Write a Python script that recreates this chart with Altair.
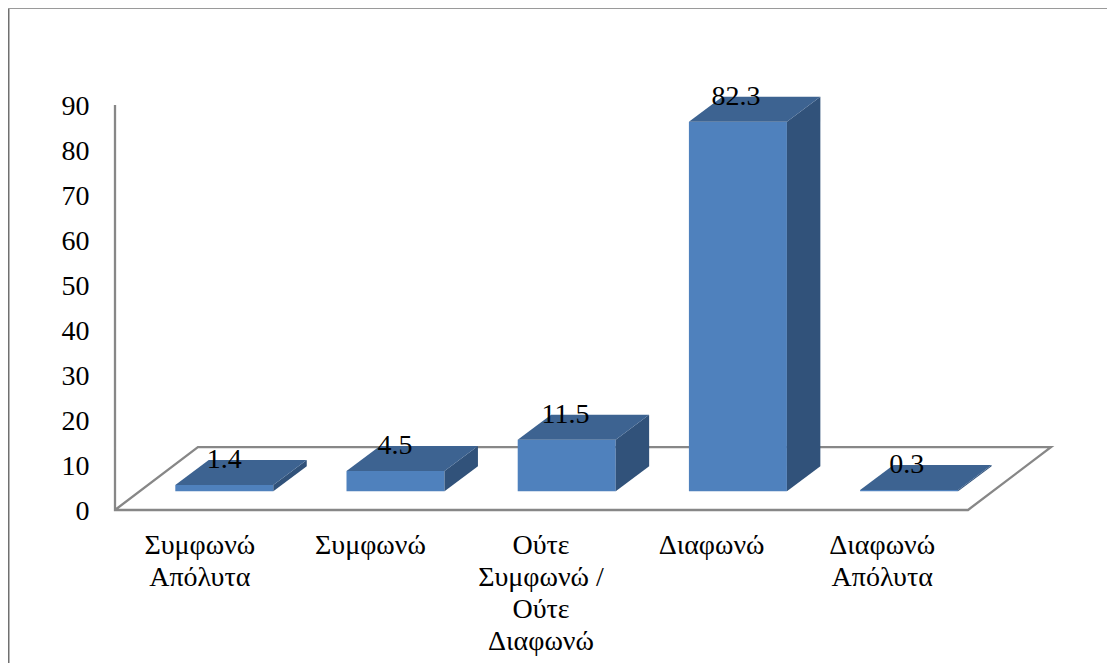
import altair as alt
import pandas as pd

categories = ["Συμφωνώ|Απόλυτα", "Συμφωνώ", "Ούτε|Συμφωνώ /|Ούτε|Διαφωνώ", "Διαφωνώ", "Διαφωνώ|Απόλυτα"]
values = [1.4, 4.5, 11.5, 82.3, 0.3]
y_ticks = [0, 10, 20, 30, 40, 50, 60, 70, 80, 90]

FONT = "Liberation Serif"
FS = 28
GREY = "#878787"
FRONT, TOP, SIDE = "#4F81BD", "#3D6391", "#31527A"
W, H = 1099, 655
PX_X, PX_Y = 170.6, 4.49          # pixels per category / per value unit
X_LEFT, Y_ZERO = 107.0, 502.0     # position of the floor corner in the plot area
BAR_L, BAR_R = -0.1465, 0.4280    # bar front relative to category centre
BAR_STEP = 171.2 / 170.6          # bars are spaced slightly wider than the floor
BAR_BASE = 4.16                   # raise of the bar base caused by depth
DEPTH_X, DEPTH_Y = 0.196, 5.57    # bar depth
FLOOR_X, FLOOR_Y = 0.486, 14.0    # floor depth
AXIS_TOP = 90.2

x_scale = alt.Scale(domain=[-0.5 - X_LEFT / PX_X, -0.5 + (W - X_LEFT) / PX_X], nice=False, zero=False)
y_scale = alt.Scale(domain=[(Y_ZERO - H) / PX_Y, Y_ZERO / PX_Y], nice=False, zero=False)

label_js = "[" + ",".join('"%s"' % c for c in categories) + "]"
x_axis = alt.Axis(values=list(range(len(categories))), title=None, grid=False, domain=False, ticks=False,
                  labelExpr="split(%s[datum.value],'|')" % label_js, labelFont=FONT, labelFontSize=FS,
                  labelColor="#000000", labelAngle=0, labelPadding=0, labelLineHeight=32, labelLimit=0,
                  labelOverlap=False, labelFlush=False, labelOffset=-1, offset=-(H - Y_ZERO - 21))
y_axis = alt.Axis(values=y_ticks, title=None, grid=False, domain=False, ticks=False, labelFont=FONT,
                  labelFontSize=FS, labelColor="#000000", labelPadding=0, labelOverlap=False,
                  labelFlush=False, labelOffset=1, offset=-81)

n = len(categories)
bars = pd.DataFrame({"i": range(n), "v": values})
bars["x0"] = bars.i * BAR_STEP + BAR_L
bars["x1"] = bars.i * BAR_STEP + BAR_R
bars["y0"] = BAR_BASE
bars["y1"] = bars.v + BAR_BASE
bars["lx"] = bars.i + (BAR_L + BAR_R) / 2
bars["ly"] = bars.y1 + DEPTH_Y
bars["txt"] = bars.v.map(lambda v: f"{v:.1f}")

top = pd.concat([
    pd.DataFrame({"i": bars.i, "y": bars.y1, "a": bars.x0, "b": bars.x1}),
    pd.DataFrame({"i": bars.i, "y": bars.y1 + DEPTH_Y, "a": bars.x0 + DEPTH_X, "b": bars.x1 + DEPTH_X}),
])
side = pd.concat([
    pd.DataFrame({"i": bars.i, "x": bars.x1, "a": bars.y0, "b": bars.y1}),
    pd.DataFrame({"i": bars.i, "x": bars.x1 + DEPTH_X, "a": bars.y0 + DEPTH_Y, "b": bars.y1 + DEPTH_Y}),
])

fl, fr = -0.5, n - 0.5
frame = pd.DataFrame({
    "o": range(6),
    "x": [fl, fl, fr, fr + FLOOR_X, fl + FLOOR_X, fl],
    "y": [AXIS_TOP, 0, 0, FLOOR_Y, FLOOR_Y, 0],
})

X = lambda f: alt.X(f, scale=x_scale, axis=x_axis)
Y = lambda f: alt.Y(f, scale=y_scale, axis=y_axis)

border_l = alt.Chart(pd.DataFrame({"a": [0]})).mark_rule(color="#707070", strokeWidth=1.5).encode(
    x=alt.value(0.75), y=alt.value(0), y2=alt.value(H))
border_t = alt.Chart(pd.DataFrame({"a": [0]})).mark_rule(color="#9a9a9a", strokeWidth=1).encode(
    y=alt.value(0.5), x=alt.value(0), x2=alt.value(W))
floor = alt.Chart(frame).mark_line(color=GREY, strokeWidth=2.3, strokeJoin="miter").encode(
    x=X("x:Q"), y=Y("y:Q"), order="o:Q")
front = alt.Chart(bars).mark_bar(color=FRONT).encode(
    x=X("x0:Q"), x2="x1:Q", y=Y("y0:Q"), y2="y1:Q")
top_face = alt.Chart(top).mark_area(color=TOP, orient="horizontal").encode(
    y=Y("y:Q"), x=X("a:Q"), x2="b:Q", detail="i:N")
side_face = alt.Chart(side).mark_area(color=SIDE, orient="vertical").encode(
    x=X("x:Q"), y=Y("a:Q"), y2="b:Q", detail="i:N")
labels = alt.Chart(bars).mark_text(font=FONT, fontSize=FS, color="#000000", baseline="middle", align="center").encode(
    x=X("lx:Q"), y=Y("ly:Q"), text="txt:N")

chart = alt.layer(border_l, border_t, floor, front, side_face, top_face, labels).properties(
    width=W, height=H, autosize=alt.AutoSizeParams(type="none"), padding=0, background="#ffffff"
).configure_view(stroke=None)

chart.save("out.html", embed_options={"renderer": "svg", "actions": False})
